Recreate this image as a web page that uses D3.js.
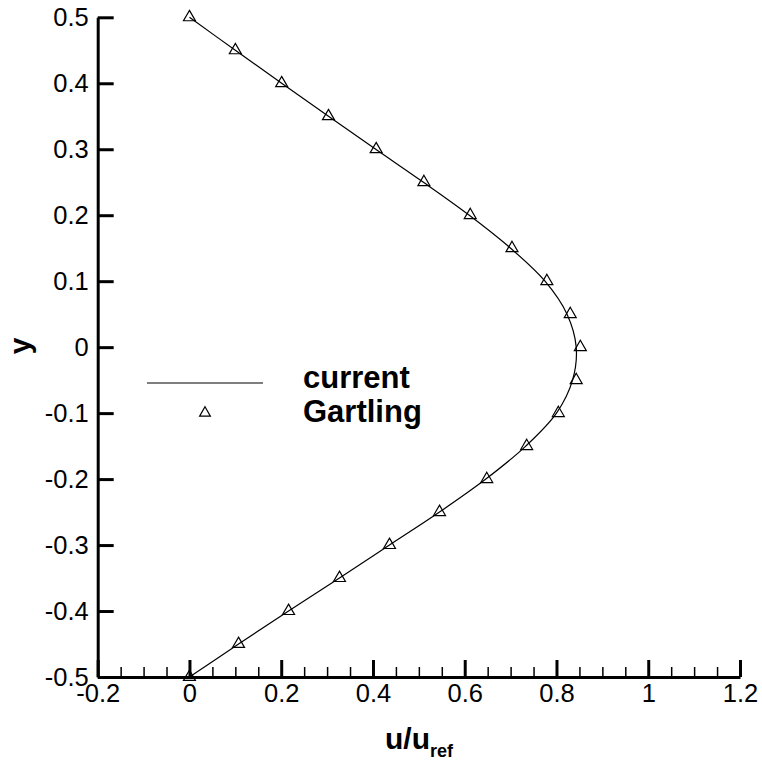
<!DOCTYPE html>
<html lang="en">
  <head>
    <meta charset="utf-8">
    <title>Velocity profile</title>
    <style>
      body { margin: 0; background: #fff; }
      svg { display: block; font-family: "Liberation Sans", Arial, sans-serif; }
    </style>
    <script src="https://d3js.org/d3.v7.min.js"></script>
  </head>
  <body>
    <div class="chart"></div>
    <script>
    // y positions (shared by both series)
    const yValues = [0.5, 0.45, 0.4, 0.35, 0.3, 0.25, 0.2, 0.15, 0.1, 0.05, 0,
                     -0.05, -0.1, -0.15, -0.2, -0.25, -0.3, -0.35, -0.4, -0.45, -0.5];
    // u/uref of the computed profile ("current")
    const currentU = [0, 0.100, 0.201, 0.303, 0.406, 0.510, 0.610, 0.700, 0.775, 0.823, 0.843,
                      0.835, 0.800, 0.733, 0.646, 0.545, 0.436, 0.327, 0.216, 0.107, 0];
    // u/uref of the reference data ("Gartling")
    const gartlingU = [0, 0.100, 0.201, 0.303, 0.407, 0.511, 0.612, 0.703, 0.779, 0.830, 0.852,
                       0.843, 0.804, 0.735, 0.648, 0.545, 0.436, 0.327, 0.216, 0.107, 0];
    const xTicks = [-0.2, 0, 0.2, 0.4, 0.6, 0.8, 1, 1.2];
    const xMinorTicks = [-0.15, -0.1, -0.05, 0.05, 0.1, 0.15, 0.25, 0.3, 0.35, 0.45, 0.5, 0.55,
                         0.65, 0.7, 0.75, 0.85, 0.9, 0.95, 1.05, 1.1, 1.15];
    const yTicks = [0.5, 0.4, 0.3, 0.2, 0.1, 0, -0.1, -0.2, -0.3, -0.4, -0.5];
    const seriesNames = ["current", "Gartling"];

    const W = 762, H = 767;
    const x = d3.scaleLinear().domain([-0.2, 1.2]).range([97.7, 740]);
    const y = d3.scaleLinear().domain([-0.5, 0.5]).range([677, 17.3]);
    const fmt = d => String(d);   // plain hyphen minus, like the original

    const svg = d3.select(".chart").append("svg")
      .attr("width", W).attr("height", H);

    const lineData = yValues.map((v, i) => ({ y: v, u: currentU[i] }));
    const pointData = yValues.map((v, i) => ({ y: v, u: gartlingU[i] }));

    // curve
    svg.append("path")
      .datum(lineData)
      .attr("d", d3.line().x(d => x(d.u)).y(d => y(d.y)).curve(d3.curveCatmullRom))
      .attr("fill", "none")
      .attr("stroke", "#000")
      .attr("stroke-width", 1.2);

    // triangles
    const tri = d3.symbol(d3.symbolTriangle, 62);
    svg.append("g").selectAll("path")
      .data(pointData)
      .join("path")
      .attr("d", tri)
      .attr("transform", d => `translate(${x(d.u)},${y(d.y)})`)
      .attr("fill", "none")
      .attr("stroke", "#000")
      .attr("stroke-width", 1.2);

    // minor x ticks
    const xMinor = svg.append("g")
      .attr("transform", `translate(0,${y(-0.5)})`)
      .call(d3.axisBottom(x).tickValues(xMinorTicks).tickSizeInner(-10).tickSizeOuter(0).tickFormat(""));
    xMinor.select(".domain").remove();
    xMinor.selectAll("line").attr("stroke-width", 1.5);

    // x axis
    const xAxis = svg.append("g")
      .attr("transform", `translate(0,${y(-0.5)})`)
      .call(d3.axisBottom(x).tickValues(xTicks).tickSizeInner(-17).tickSizeOuter(0)
        .tickPadding(7).tickFormat(fmt));
    xAxis.select(".domain").attr("stroke-width", 3);
    xAxis.selectAll(".tick line").attr("stroke-width", 3);
    xAxis.selectAll("text").attr("font-size", 25.5).attr("font-family", "Liberation Sans, Arial, sans-serif");

    // y axis
    const yAxis = svg.append("g")
      .attr("transform", `translate(${x(-0.2)},0)`)
      .call(d3.axisLeft(y).tickValues(yTicks).tickSizeInner(-16).tickSizeOuter(0)
        .tickPadding(9).tickFormat(fmt));
    yAxis.select(".domain").attr("stroke-width", 3);
    yAxis.selectAll(".tick line").attr("stroke-width", 3);
    yAxis.selectAll("text").attr("font-size", 25.5).attr("font-family", "Liberation Sans, Arial, sans-serif");

    // axis titles
    const xt = svg.append("text")
      .attr("x", 385).attr("y", 749)
      .attr("font-size", 30).attr("font-weight", "bold");
    xt.append("tspan").text("u/u");
    xt.append("tspan").attr("font-size", 18).attr("dy", 8).text("ref");

    svg.append("text")
      .attr("transform", "translate(30,346) rotate(-90)")
      .attr("text-anchor", "middle")
      .attr("font-size", 30).attr("font-weight", "bold")
      .text("y");

    // legend
    const legend = svg.append("g");
    legend.append("line")
      .attr("x1", 147).attr("x2", 263).attr("y1", 383).attr("y2", 383)
      .attr("stroke", "#000").attr("stroke-width", 1.2);
    legend.append("path")
      .attr("d", d3.symbol(d3.symbolTriangle, 50))
      .attr("transform", "translate(205,413)")
      .attr("fill", "none").attr("stroke", "#000").attr("stroke-width", 1.2);
    legend.selectAll("text")
      .data(seriesNames)
      .join("text")
      .attr("x", 303)
      .attr("y", (d, i) => 388 + i * 34)
      .attr("font-size", 31).attr("font-weight", "bold")
      .text(d => d);
    </script>
  </body>
</html>
